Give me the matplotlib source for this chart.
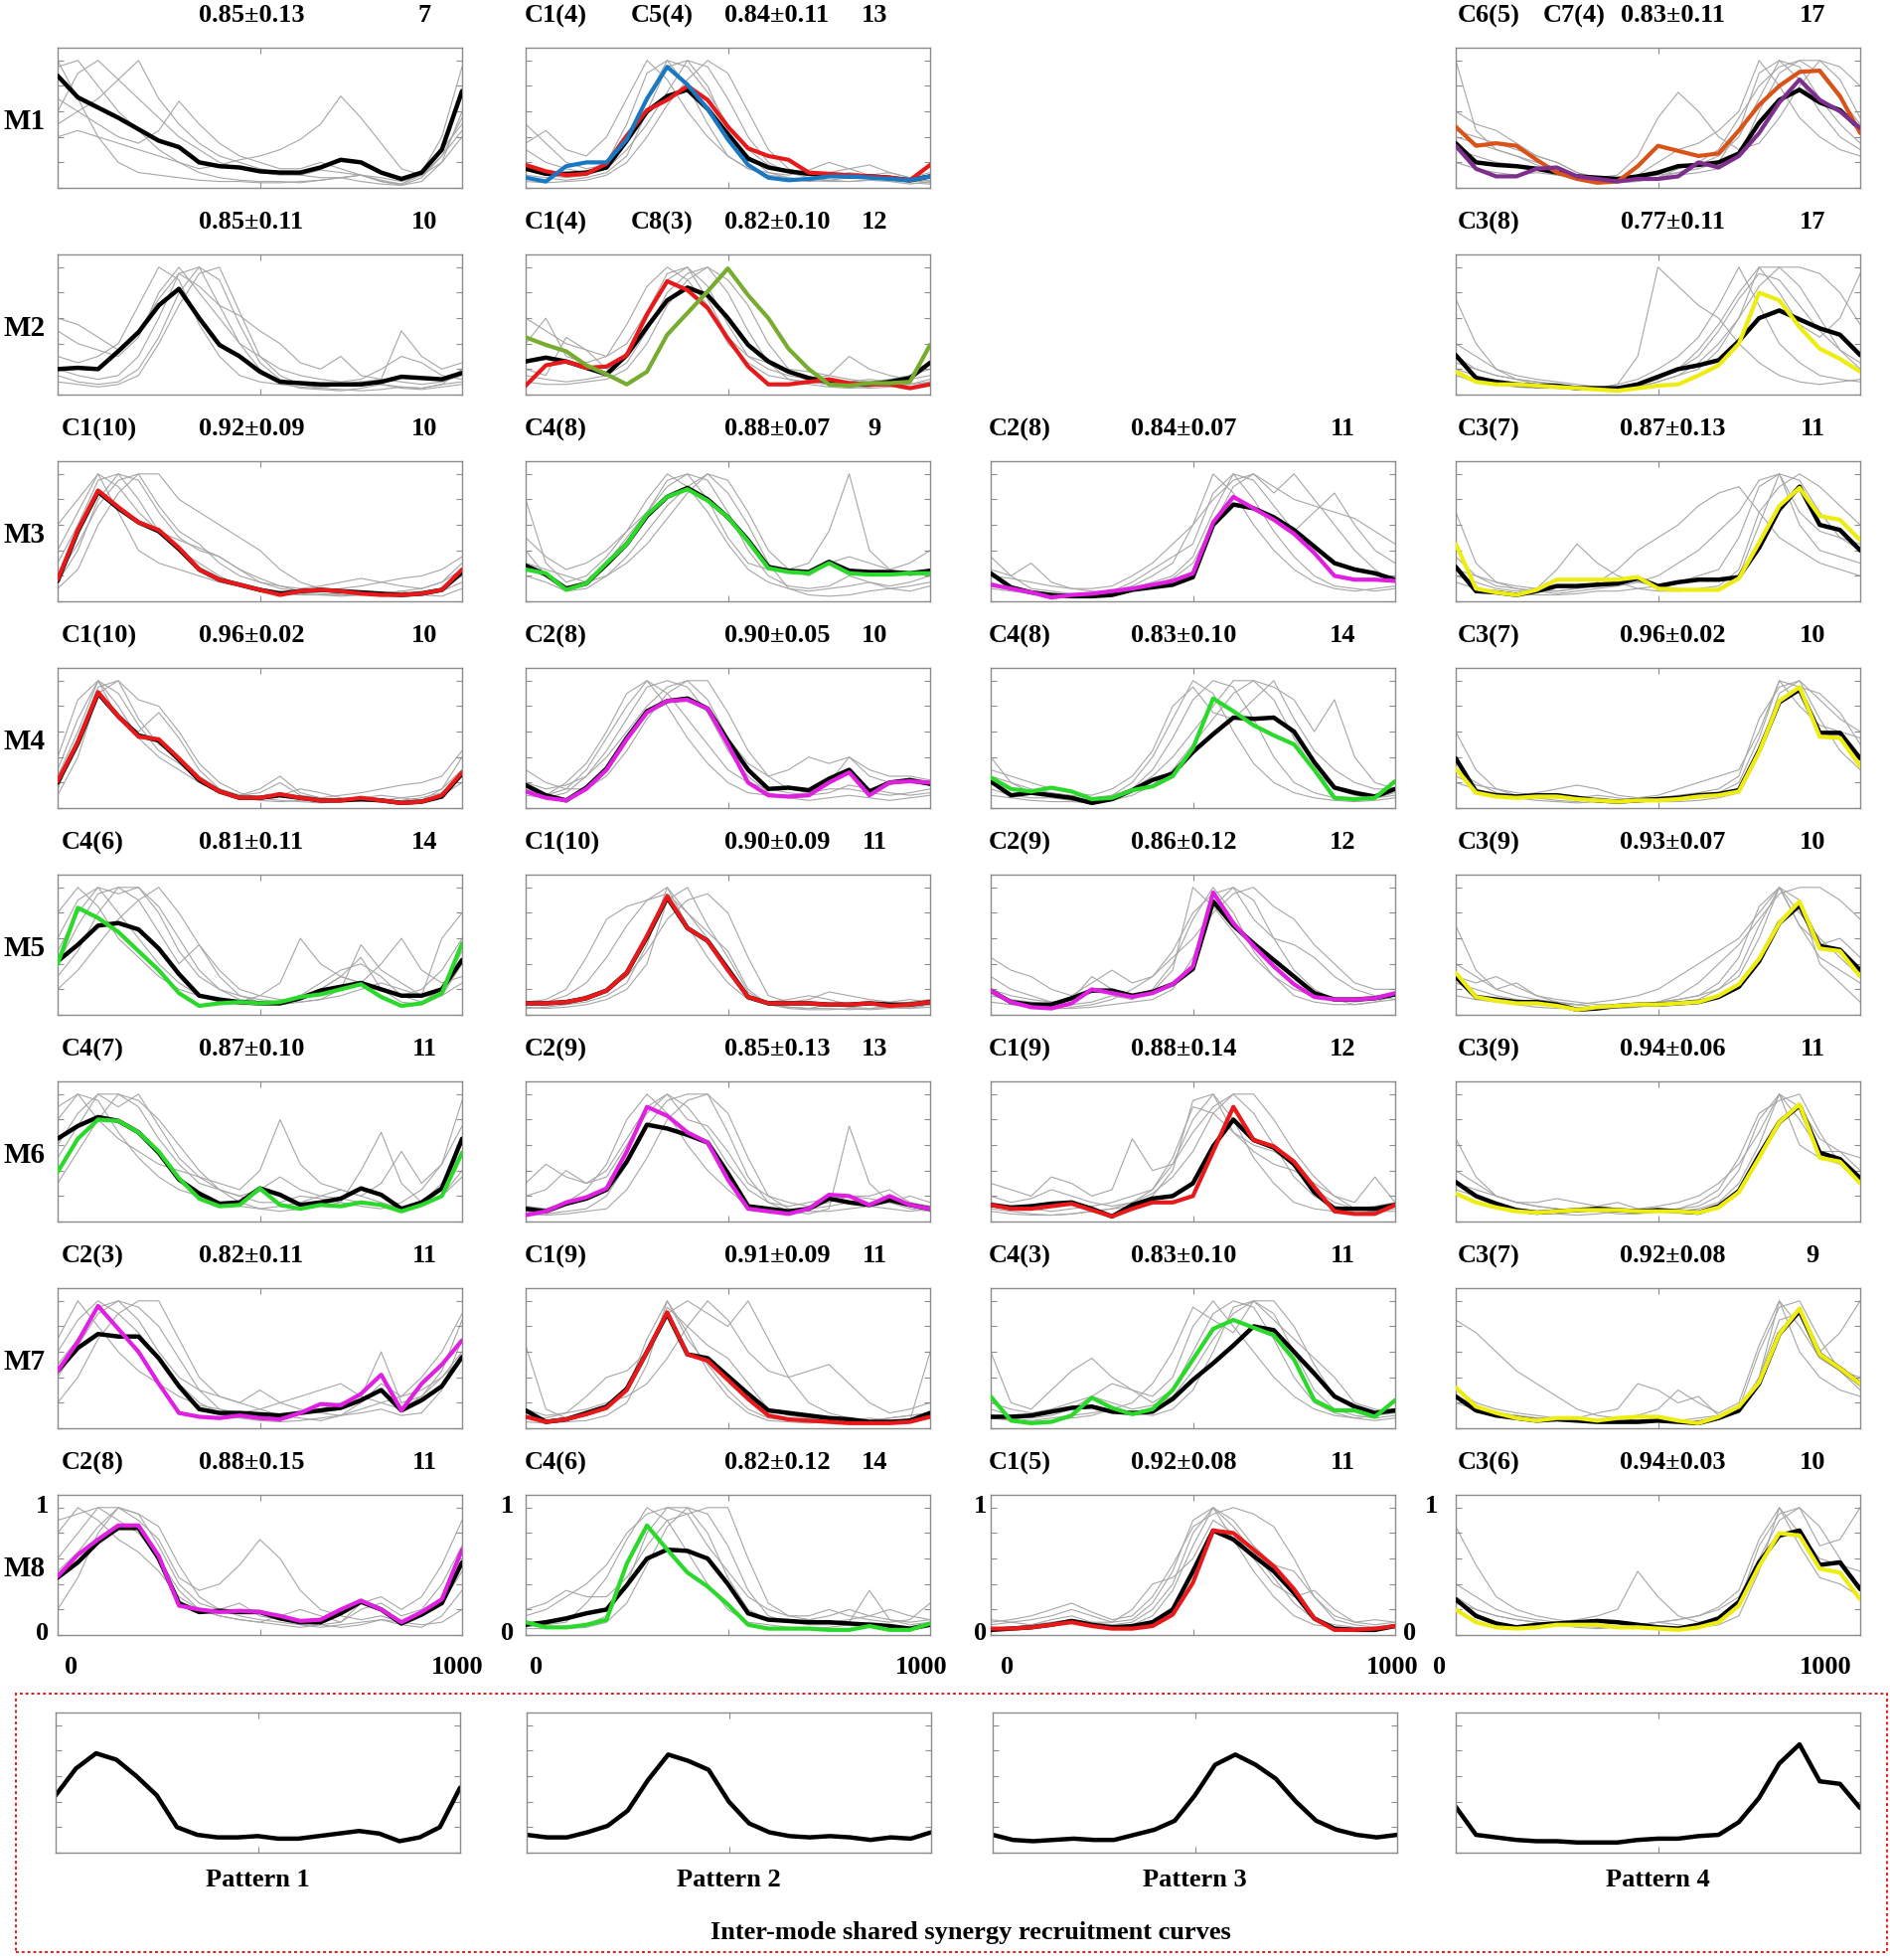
import numpy as np
import matplotlib.pyplot as plt
from matplotlib.patches import Rectangle

# sample positions of every curve (0..1000, step 50); values in % of max
x = np.arange(0, 1001, 50)

# ---------------- M1 ----------------
m11_mean = [88,71,63,55,46,37,32,20,17,16,13,12,12,16,22,20,12,7,12,30,76]
m11_gray = [[95,100,80,60,45,30,20,12,8,6,5,5,4,6,8,5,3,2,5,20,60],
            [60,90,100,85,70,55,40,30,20,15,12,10,10,14,12,10,6,3,10,30,50],
            [50,60,70,85,100,70,50,35,25,20,15,12,10,8,8,10,5,2,8,25,45],
            [40,45,40,35,30,25,20,15,18,22,25,30,38,50,72,55,35,15,10,20,40],
            [70,60,50,40,35,45,68,50,35,25,20,15,15,20,15,10,5,3,12,40,95],
            [100,70,40,20,12,10,8,6,5,5,4,4,5,6,8,10,8,5,10,25,55]]
m12_mean = [15,11,11,12,16,37,60,72,77,62,42,23,16,13,11,10,9,9,8,6,9]
m12_c1 = [18,13,10,11,19,41,61,69,80,69,48,31,25,22,12,11,10,9,8,6,18]
m12_c5 = [8,5,17,20,20,38,70,95,81,62,38,18,8,6,7,9,9,8,7,6,9]
m12_gray = [[30,20,15,12,20,50,90,100,80,50,25,15,10,8,6,5,5,6,5,3,5],
            [10,8,6,8,12,25,60,95,100,80,45,25,12,8,5,6,8,10,6,4,3],
            [50,35,20,15,18,35,70,100,95,75,50,30,18,12,10,12,15,18,12,8,10],
            [15,10,8,10,15,30,50,75,100,95,70,40,20,12,8,6,5,6,8,5,6],
            [5,4,5,6,10,20,40,65,85,100,90,60,30,15,10,8,12,10,8,6,4],
            [35,45,30,25,40,70,100,85,60,40,25,15,12,10,14,20,15,10,12,8,12]]
m14_mean = [35,20,18,17,15,12,9,8,7,9,12,17,18,20,27,51,69,77,67,61,46]
m14_c6 = [48,33,35,33,22,12,7,4,5,17,33,29,25,27,45,65,80,91,92,72,43]
m14_c7 = [33,15,9,9,15,16,9,7,5,7,7,9,20,16,25,43,67,85,69,60,47]
m14_gray = [[100,45,30,25,20,15,10,8,6,8,10,12,15,20,45,90,100,85,60,40,30],
            [60,50,45,35,25,20,12,8,5,6,8,15,20,30,55,80,95,100,90,70,50],
            [30,25,20,18,15,12,10,8,10,25,55,75,60,40,30,35,55,80,100,95,80],
            [45,40,35,30,25,20,12,6,4,5,8,12,18,25,40,70,100,95,70,50,35],
            [20,15,12,10,12,10,8,6,5,6,8,10,12,15,25,60,90,100,100,85,55],
            [40,35,30,25,18,12,8,6,5,10,20,30,35,45,60,100,80,55,40,30,25]]

# ---------------- M2 ----------------
m21_mean = [20,21,20,34,49,70,83,60,39,30,18,10,9,8,8,8,10,14,13,12,17]
m21_gray = [[30,25,30,40,70,100,90,55,30,15,10,8,6,5,8,10,8,6,5,8,10],
            [50,40,35,30,45,80,100,80,60,40,30,20,15,12,10,12,20,30,25,15,12],
            [20,15,12,15,30,60,95,100,70,40,20,10,5,4,3,5,8,5,4,6,8],
            [15,10,8,10,20,45,80,100,90,55,25,12,8,6,8,10,12,10,8,10,15],
            [60,55,45,35,50,75,95,85,70,62,50,40,25,20,30,15,12,50,30,20,25],
            [10,8,6,8,15,40,70,95,100,65,30,15,8,5,4,3,4,6,5,8,20]]
m22_mean = [26,29,26,21,16,31,53,74,84,78,60,39,26,18,13,10,8,8,10,13,25]
m22_c1 = [7,23,26,21,22,31,63,89,82,68,44,22,8,8,10,12,9,8,8,5,8]
m22_c8 = [45,39,34,23,16,8,18,47,64,81,99,78,60,36,20,8,7,9,9,10,39]
m22_gray = [[40,60,30,25,30,55,85,100,90,70,40,25,15,12,10,8,10,12,10,8,10],
            [20,15,45,35,20,30,60,90,100,85,55,30,20,15,12,15,30,20,15,12,15],
            [15,12,10,12,15,25,50,80,95,100,80,50,25,12,8,6,5,6,8,6,10],
            [60,50,40,35,30,40,65,95,100,75,45,30,25,20,18,15,12,10,12,15,20],
            [10,8,8,10,12,20,40,70,90,100,90,70,40,20,10,8,6,5,6,8,12]]
m24_mean = [31,13,10,8,7,7,5,5,5,8,14,20,23,27,42,60,66,59,52,47,31]
m24_c3 = [18,10,8,8,7,6,5,4,3,5,7,8,15,23,40,80,74,53,36,28,18]
m24_gray = [[75,40,20,12,8,6,5,5,8,30,100,85,70,60,40,25,15,10,8,10,12],
            [30,20,15,12,10,8,6,5,8,12,20,30,45,70,100,70,40,25,15,12,10],
            [20,15,10,8,6,5,4,4,5,8,12,20,35,55,80,100,100,85,60,35,20],
            [40,30,20,15,12,10,8,6,5,6,10,15,25,40,60,85,100,100,95,80,55],
            [25,20,15,12,10,8,6,5,6,8,12,20,30,50,75,95,90,70,50,35,25],
            [15,10,8,6,5,5,4,4,5,6,10,15,20,35,60,100,80,55,45,60,95]]

# ---------------- M3 ----------------
m31_mean = [16,55,86,73,62,55,41,25,17,13,9,6,8,9,8,7,6,5,6,9,23]
m31_c1 = [17,56,87,74,62,56,42,25,17,13,9,5,8,9,8,6,5,5,6,9,25]
m31_gray = [[30,60,95,100,80,55,40,30,20,12,8,6,5,5,6,8,6,5,6,8,15],
            [15,40,80,100,95,70,50,40,35,25,15,10,8,6,5,5,6,8,10,15,25],
            [40,70,100,90,70,55,48,42,35,25,18,12,8,8,10,12,15,18,20,25,35],
            [20,45,75,95,100,100,80,70,60,50,40,25,15,10,8,6,5,6,8,10,20],
            [60,80,100,70,40,30,25,20,15,12,10,8,6,5,4,5,6,8,5,4,10],
            [10,25,60,85,100,75,55,45,30,20,15,12,10,12,15,18,15,12,10,15,30]]
m32_mean = [28,21,10,14,29,45,67,82,89,80,66,48,27,24,23,31,24,23,23,22,24]
m32_c4 = [25,22,9,14,30,45,68,82,88,79,66,47,26,23,22,30,22,21,21,22,22]
m32_gray = [[80,30,15,20,35,55,80,100,90,70,45,25,15,10,8,10,12,15,10,8,12],
            [40,20,10,15,30,50,70,90,100,95,70,40,20,12,10,12,20,15,12,15,20],
            [20,15,8,10,20,35,55,75,90,100,85,60,30,10,5,4,5,8,10,12,15],
            [50,35,25,30,40,55,70,95,100,80,50,30,25,25,30,55,100,40,25,20,25],
            [30,25,20,15,20,30,45,65,85,100,95,70,40,25,20,30,35,30,25,30,40]]
m33_mean = [22,11,7,5,4,4,5,9,11,13,19,60,76,73,66,56,43,30,25,22,17]
m33_c2 = [13,10,7,3,5,6,8,10,13,16,22,62,82,73,64,53,38,20,17,17,16]
m33_gray = [[35,20,10,8,6,5,8,12,20,30,60,100,85,60,40,25,15,10,8,10,12],
            [15,10,8,6,5,6,8,15,25,35,45,85,100,80,55,35,20,12,10,8,10],
            [20,18,15,12,10,10,12,20,30,45,60,80,95,100,90,80,75,70,65,55,45],
            [10,8,6,5,4,5,6,8,12,18,30,60,90,100,85,100,80,60,40,25,15],
            [25,20,30,15,10,8,6,10,15,20,35,70,100,95,75,55,70,85,60,40,30]]
m34_mean = [27,8,7,5,8,12,12,13,14,18,12,15,17,17,19,42,72,90,60,56,40]
m34_c3 = [45,10,7,5,9,17,17,17,17,19,10,9,9,9,18,46,75,89,67,64,48]
m34_gray = [[70,30,15,10,8,6,8,10,12,15,20,30,40,55,70,95,100,60,40,35,30],
            [20,15,10,8,10,25,45,30,20,15,12,15,20,25,50,90,100,70,55,50,45],
            [35,20,12,10,8,8,10,15,25,40,50,60,75,85,90,70,50,40,30,25,20],
            [15,10,8,6,5,5,6,8,8,10,12,10,8,10,20,60,100,95,70,50,40],
            [25,20,15,12,10,8,10,12,15,10,8,8,10,12,25,70,90,100,90,75,60]]

# ---------------- M4 ----------------
m41_mean = [20,51,90,72,57,53,38,22,13,8,8,10,8,6,6,7,6,4,5,9,27]
m41_c1 = [21,52,91,72,56,54,39,23,13,8,8,11,8,6,6,8,6,4,5,10,28]
m41_gray = [[30,70,100,80,55,40,30,20,12,8,6,5,6,8,6,5,6,8,10,15,30],
            [15,55,95,100,70,50,40,25,15,10,8,10,15,12,8,6,5,6,8,12,25],
            [40,85,100,70,60,75,55,30,15,10,12,20,10,8,6,8,10,8,6,10,20],
            [10,40,90,100,85,80,60,35,20,12,8,6,5,4,5,6,5,4,6,15,40],
            [25,60,100,90,65,45,35,22,14,10,15,25,12,8,10,12,15,18,20,25,45]]
m42_mean = [18,10,6,16,31,55,76,84,86,78,53,30,15,16,14,23,30,13,20,22,19]
m42_c2 = [13,8,6,15,30,54,75,84,85,78,50,20,10,9,10,20,28,10,20,21,20]
m42_gray = [[15,10,20,35,60,90,100,80,55,35,20,12,10,10,12,15,15,12,10,12,15],
            [10,8,12,25,45,70,95,100,95,75,45,25,12,8,6,8,10,8,6,8,10],
            [20,15,18,25,40,60,80,95,100,85,55,35,25,30,40,35,40,30,25,25,22],
            [30,20,15,15,25,45,70,90,100,100,75,45,25,15,12,20,40,25,20,20,18],
            [12,10,15,30,55,80,100,90,70,50,30,20,15,12,10,12,18,15,12,10,12]]
m43_mean = [21,10,12,10,8,4,7,14,22,27,44,58,71,70,71,60,36,16,12,9,15]
m43_c4 = [24,15,13,16,13,7,8,14,17,25,47,86,76,65,57,50,30,8,7,8,21]
m43_gray = [[40,20,12,10,8,6,10,20,40,70,100,90,60,35,20,12,8,6,5,6,8],
            [15,10,8,8,6,5,8,15,30,55,85,100,95,70,40,20,12,8,6,8,10],
            [25,20,15,12,10,8,10,15,25,40,60,80,100,100,85,55,30,15,10,8,12],
            [10,8,6,5,5,4,6,10,18,30,50,70,90,100,95,85,60,85,40,20,15],
            [30,25,20,15,12,10,15,25,45,80,95,75,70,85,100,70,45,30,20,15,15]]
m44_mean = [39,13,10,9,10,10,8,6,5,6,7,8,10,11,14,45,83,93,59,59,39]
m44_c3 = [31,12,9,8,9,9,7,6,5,6,6,7,9,10,13,44,84,95,56,55,33]
m44_gray = [[60,30,15,10,8,6,5,8,6,5,6,8,10,12,20,55,100,80,65,60,55],
            [30,20,12,10,12,15,18,15,10,8,8,10,12,15,25,70,95,100,85,70,60],
            [20,15,10,8,6,5,4,5,6,8,10,15,20,25,30,60,100,95,90,75,50],
            [25,18,15,12,10,8,8,10,8,6,5,5,6,8,12,45,90,100,70,45,30]]

# ---------------- M5 ----------------
m51_mean = [42,55,70,72,67,52,32,15,12,10,9,9,13,19,22,25,20,15,15,20,43]
m51_c4 = [40,84,76,65,50,35,17,7,9,10,9,10,14,16,20,24,14,7,9,17,56]
m51_gray = [[60,90,100,80,60,40,25,15,10,8,8,10,15,25,35,40,30,15,10,20,50],
            [40,70,95,100,100,80,50,30,20,15,12,10,12,20,30,25,20,15,20,35,60],
            [80,100,85,60,45,30,20,15,12,10,15,25,60,40,30,25,40,60,35,25,30],
            [30,50,80,100,90,65,40,55,35,20,15,12,10,12,15,20,25,20,15,60,80],
            [50,80,100,95,100,85,60,35,20,12,10,8,10,12,20,55,35,25,15,15,40],
            [20,35,55,75,90,100,80,55,30,15,10,10,15,20,30,45,20,10,8,15,25]]
m52_mean = [9,9,10,13,19,33,61,92,68,58,36,14,9,9,9,8,8,9,8,8,10]
m52_c1 = [9,9,10,13,19,33,62,93,68,58,35,14,9,9,9,8,8,9,7,8,10]
m52_gray = [[8,10,15,25,45,70,90,100,70,45,25,12,8,6,5,8,6,5,6,5,8],
            [10,12,20,45,75,85,90,95,80,60,35,15,10,12,15,12,8,10,8,10,12],
            [5,6,8,10,15,25,55,100,80,65,50,20,8,6,5,5,4,5,6,5,6],
            [10,8,10,15,20,30,50,75,90,95,80,45,15,10,12,18,15,12,10,12,10],
            [6,5,6,8,12,20,40,90,100,70,45,18,8,5,4,4,5,4,5,6,8]]
m53_mean = [19,10,8,8,13,19,19,15,18,24,36,89,70,56,43,30,17,12,12,13,16]
m53_c2 = [19,10,6,5,9,20,17,14,17,24,38,96,72,54,38,24,14,12,12,13,17]
m53_gray = [[30,20,15,10,8,10,15,12,20,40,75,100,80,50,30,15,10,8,8,10,12],
            [45,35,30,20,15,25,35,25,30,50,80,95,100,90,60,35,20,12,8,10,15],
            [15,12,10,8,6,8,12,20,30,45,60,80,95,100,85,75,55,40,25,20,20],
            [20,15,12,10,12,30,20,15,18,35,100,85,65,45,30,20,15,12,10,12,15],
            [10,8,6,5,5,6,8,10,12,20,45,85,100,75,60,55,45,30,20,15,12]]
m54_mean = [30,14,12,10,10,8,4,5,7,8,8,9,10,14,22,42,72,86,54,51,35]
m54_c3 = [33,14,11,9,9,7,4,6,7,8,8,9,10,15,24,44,72,89,52,50,30]
m54_gray = [[70,35,20,15,12,10,8,6,5,6,8,10,12,20,35,70,100,70,45,35,25],
            [30,25,30,22,15,12,10,8,8,8,10,12,15,25,45,85,100,80,60,45,30],
            [40,30,20,25,15,10,8,6,6,8,10,15,25,40,55,75,95,100,100,90,75],
            [15,12,10,8,6,5,5,5,6,8,10,12,15,20,30,60,100,90,40,25,10],
            [25,20,15,12,10,8,8,10,12,15,20,30,40,50,60,80,100,70,55,60,45]]

# ---------------- M6 ----------------
m61_mean = [65,75,82,79,70,54,33,22,14,15,26,21,13,15,18,26,21,10,15,26,65]
m61_c4 = [39,65,80,79,70,55,34,18,12,13,26,13,10,13,12,15,13,8,13,20,54]
m61_gray = [[80,100,95,70,50,35,25,20,15,12,10,12,15,20,25,20,15,10,15,30,55],
            [50,75,100,100,90,65,45,30,25,20,15,15,20,18,15,12,10,15,25,45,75],
            [90,100,80,65,55,45,40,35,30,25,40,80,45,30,25,20,30,55,30,45,95],
            [30,55,80,100,95,80,60,40,25,15,10,8,10,12,15,40,70,30,15,20,40],
            [60,85,100,90,100,75,50,35,25,20,25,35,25,20,18,15,12,10,12,20,35]]
m62_mean = [10,8,14,18,25,47,76,73,68,62,38,12,10,8,10,18,15,13,17,13,10]
m62_c2 = [5,8,15,19,26,55,90,83,70,62,33,10,8,6,10,21,20,13,20,13,10]
m62_gray = [[12,10,15,25,45,80,100,85,60,40,25,12,10,8,10,12,15,12,10,8,10],
            [30,45,35,30,40,65,90,100,90,70,45,25,15,12,15,18,20,18,15,12,12],
            [8,6,8,10,20,45,75,95,100,100,70,35,15,8,6,10,75,30,15,10,8],
            [20,25,40,30,35,60,85,100,80,75,55,30,20,15,12,15,20,20,25,15,12],
            [6,5,6,8,10,25,50,80,95,100,85,50,20,10,8,8,10,12,15,20,15]]
m63_mean = [13,11,12,14,15,10,4,13,18,20,30,59,80,64,58,45,23,10,10,10,13]
m63_c1 = [13,10,10,12,14,9,4,10,15,15,20,55,90,64,59,47,27,8,6,6,13]
m63_gray = [[15,12,10,8,10,12,15,20,25,45,80,100,80,50,30,15,10,8,6,8,10],
            [30,25,20,35,30,20,25,65,40,45,70,90,100,85,60,35,20,12,10,12,15],
            [10,8,6,5,6,8,10,12,20,40,95,100,70,55,45,40,30,20,10,8,8],
            [20,15,18,25,20,15,12,15,22,35,55,85,100,100,80,55,35,20,15,35,15],
            [8,6,5,5,6,8,10,15,25,50,90,85,70,60,55,45,25,15,10,10,12]]
m64_mean = [31,20,14,9,7,8,9,10,9,8,9,8,7,12,24,52,78,91,54,49,34]
m64_c3 = [22,15,11,8,7,8,9,9,9,8,8,8,7,11,23,50,78,92,50,47,30]
m64_gray = [[65,35,20,15,12,10,8,12,15,10,8,8,10,15,30,60,100,60,50,45,35],
            [40,30,20,15,15,18,15,12,10,8,8,10,12,20,40,80,100,90,65,55,40],
            [30,25,20,15,12,10,8,8,6,6,8,10,15,25,50,85,95,100,70,45,30],
            [25,20,15,10,8,6,5,6,8,10,12,15,20,30,45,70,100,80,55,55,50]]

# ---------------- M7 ----------------
m71_mean = [45,63,74,72,72,55,33,15,12,12,11,10,12,14,16,22,30,14,22,33,56]
m71_c2 = [45,68,96,78,60,35,12,9,8,10,8,7,12,19,18,27,42,14,35,50,69]
m71_gray = [[60,85,100,90,75,55,35,20,12,8,6,5,6,8,10,15,20,25,30,40,60],
            [40,65,90,100,95,80,55,30,15,10,8,10,12,15,20,25,60,20,25,45,85],
            [70,100,80,60,45,35,25,18,15,12,15,20,25,30,35,25,20,15,25,40,55],
            [20,40,70,90,100,100,70,40,25,20,30,20,15,12,10,12,15,10,12,30,70],
            [50,70,95,100,85,60,40,30,25,20,15,10,8,6,10,20,35,25,40,60,90]]
m72_mean = [14,5,7,12,17,31,60,90,58,55,41,27,14,12,10,8,7,5,5,6,12]
m72_c1 = [9,5,7,11,16,30,60,91,58,53,38,23,10,7,6,5,4,4,4,5,9]
m72_gray = [[65,15,8,10,15,30,70,100,70,50,30,15,8,6,5,5,6,8,6,5,8],
            [10,8,12,25,40,45,60,95,80,65,55,35,15,10,8,6,5,6,8,10,12],
            [8,6,8,10,15,30,60,90,100,90,80,100,70,40,20,12,8,6,8,10,12],
            [15,10,12,15,20,25,35,55,80,100,85,60,45,40,45,50,35,20,12,15,20],
            [5,4,5,6,10,20,50,100,75,45,25,12,6,5,4,5,6,5,4,6,60]]
m73_mean = [9,9,10,13,16,17,13,12,13,23,38,51,65,80,77,60,43,25,17,12,14]
m73_c4 = [25,6,4,5,10,24,16,11,15,30,54,78,85,79,73,54,22,14,14,9,22]
m73_gray = [[60,20,15,30,45,55,40,30,25,40,80,100,80,60,40,25,15,10,8,10,12],
            [15,10,8,10,15,25,35,30,20,30,60,90,100,95,70,40,20,12,8,6,8],
            [10,8,6,8,10,12,15,20,35,60,95,85,75,100,90,60,30,15,10,8,10],
            [20,15,12,15,20,25,20,15,18,25,45,70,90,100,100,80,50,25,15,12,15],
            [8,6,5,6,8,10,15,12,10,15,30,60,95,100,85,70,55,40,20,15,12]]
m74_mean = [25,14,10,8,6,7,6,5,5,5,6,5,4,8,14,35,74,92,58,47,35]
m74_c3 = [32,17,12,8,6,8,8,6,8,9,9,6,4,9,17,36,74,94,58,47,35]
m74_gray = [[85,75,60,45,35,25,15,10,8,6,5,5,6,8,12,40,100,60,40,30,25],
            [30,20,15,12,10,8,8,12,15,35,30,20,25,10,15,60,95,100,70,45,30],
            [20,15,12,10,8,6,5,6,8,10,15,30,20,12,20,65,100,80,55,45,40],
            [25,18,12,10,8,8,6,6,8,10,8,6,8,10,15,40,85,90,60,75,100]]

# ---------------- M8 ----------------
m81_mean = [45,57,73,84,84,60,25,18,19,18,18,13,10,10,17,26,20,9,16,25,57]
m81_c2 = [46,63,75,86,86,62,23,20,18,19,18,15,11,12,20,27,20,10,18,28,67]
m81_gray = [[90,95,100,90,80,60,35,20,15,12,10,8,6,8,10,20,25,15,20,40,70],
            [60,80,100,100,95,70,40,25,20,25,15,12,10,8,6,8,12,10,15,25,50],
            [50,65,85,100,90,75,45,35,40,55,75,60,35,20,15,12,15,10,8,10,20],
            [80,100,90,75,65,50,30,20,15,12,10,15,20,15,10,25,30,20,30,55,90],
            [20,45,80,100,95,85,55,30,20,15,12,10,8,6,8,10,12,8,6,15,35]]
m82_mean = [8,10,13,17,20,39,60,67,66,60,40,17,12,11,10,10,9,8,7,5,8]
m82_c4 = [10,6,6,8,12,56,86,67,49,38,24,8,5,5,5,4,4,7,4,4,9]
m82_gray = [[10,8,10,25,45,75,100,90,65,40,20,10,8,6,5,6,8,10,8,6,8],
            [15,20,30,40,55,80,95,100,100,80,45,20,12,10,12,15,20,15,12,10,12],
            [8,6,5,6,10,25,55,85,100,95,70,35,15,10,8,8,10,35,12,8,10],
            [20,25,35,30,30,45,70,90,95,100,100,60,25,15,15,20,15,12,10,12,25],
            [5,5,6,8,15,40,80,100,95,70,50,30,20,15,12,10,12,15,20,15,12]]
m83_mean = [4,5,6,8,11,8,6,7,10,20,50,82,75,62,50,33,13,5,4,4,7]
m83_c1 = [5,5,6,8,10,7,5,5,7,16,41,82,80,67,54,36,13,4,4,5,7]
m83_gray = [[8,10,12,15,20,15,10,12,25,50,90,100,75,50,30,15,8,6,5,6,8],
            [5,6,8,12,15,10,8,10,20,40,80,100,85,65,45,25,12,8,6,5,6],
            [10,12,15,20,25,18,12,15,30,55,85,95,100,95,85,60,30,15,10,8,10],
            [6,5,6,8,10,8,6,8,15,35,70,100,90,70,55,50,30,12,8,6,8],
            [12,10,8,10,12,10,10,20,40,45,60,90,80,60,40,30,35,20,10,12,10]]
m84_mean = [28,15,9,6,8,9,10,11,10,8,6,5,8,13,26,57,78,82,55,57,36]
m84_c3 = [20,10,6,5,6,8,8,8,6,6,5,4,6,10,23,54,80,78,52,49,28]
m84_gray = [[85,55,30,20,15,12,10,8,6,8,10,8,6,8,15,50,100,80,60,55,50],
            [40,30,20,15,12,10,12,15,20,50,30,15,10,12,25,70,95,100,85,60,35],
            [25,20,15,12,10,8,8,6,6,8,10,12,15,20,30,60,90,100,70,75,100],
            [30,20,15,12,10,8,6,5,6,8,10,12,15,22,35,75,100,70,45,40,30]]

# ---------------- shared patterns ----------------
pat1 = [45,66,78,73,60,45,20,14,12,12,13,11,11,13,15,17,15,9,12,20,51]
pat2 = [14,12,12,16,21,33,57,77,72,65,40,23,16,13,12,13,12,10,12,11,16]
pat3 = [14,10,9,10,11,10,10,14,18,25,45,69,77,69,58,40,25,18,14,12,14]
pat4 = [36,14,12,10,9,9,8,8,8,10,11,11,13,14,24,43,70,85,56,54,35]
pattern_names = ["Pattern 1", "Pattern 2", "Pattern 3", "Pattern 4"]

cluster_colors = {"C1": "#E8191A", "C2": "#E020E0", "C3": "#EDED12", "C4": "#2BD92B",
                  "C5": "#1A78C2", "C6": "#D95319", "C7": "#7E2F8E", "C8": "#77AC30"}

# row, col, gray curves, mean, synergy curves, labels, similarity, count
panels = [
    (0, 0, m11_gray, m11_mean, [], [], "0.85±0.13", "7"),
    (0, 1, m12_gray, m12_mean, [m12_c1, m12_c5], ["C1(4)", "C5(4)"], "0.84±0.11", "13"),
    (0, 3, m14_gray, m14_mean, [m14_c6, m14_c7], ["C6(5)", "C7(4)"], "0.83±0.11", "17"),
    (1, 0, m21_gray, m21_mean, [], [], "0.85±0.11", "10"),
    (1, 1, m22_gray, m22_mean, [m22_c1, m22_c8], ["C1(4)", "C8(3)"], "0.82±0.10", "12"),
    (1, 3, m24_gray, m24_mean, [m24_c3], ["C3(8)"], "0.77±0.11", "17"),
    (2, 0, m31_gray, m31_mean, [m31_c1], ["C1(10)"], "0.92±0.09", "10"),
    (2, 1, m32_gray, m32_mean, [m32_c4], ["C4(8)"], "0.88±0.07", "9"),
    (2, 2, m33_gray, m33_mean, [m33_c2], ["C2(8)"], "0.84±0.07", "11"),
    (2, 3, m34_gray, m34_mean, [m34_c3], ["C3(7)"], "0.87±0.13", "11"),
    (3, 0, m41_gray, m41_mean, [m41_c1], ["C1(10)"], "0.96±0.02", "10"),
    (3, 1, m42_gray, m42_mean, [m42_c2], ["C2(8)"], "0.90±0.05", "10"),
    (3, 2, m43_gray, m43_mean, [m43_c4], ["C4(8)"], "0.83±0.10", "14"),
    (3, 3, m44_gray, m44_mean, [m44_c3], ["C3(7)"], "0.96±0.02", "10"),
    (4, 0, m51_gray, m51_mean, [m51_c4], ["C4(6)"], "0.81±0.11", "14"),
    (4, 1, m52_gray, m52_mean, [m52_c1], ["C1(10)"], "0.90±0.09", "11"),
    (4, 2, m53_gray, m53_mean, [m53_c2], ["C2(9)"], "0.86±0.12", "12"),
    (4, 3, m54_gray, m54_mean, [m54_c3], ["C3(9)"], "0.93±0.07", "10"),
    (5, 0, m61_gray, m61_mean, [m61_c4], ["C4(7)"], "0.87±0.10", "11"),
    (5, 1, m62_gray, m62_mean, [m62_c2], ["C2(9)"], "0.85±0.13", "13"),
    (5, 2, m63_gray, m63_mean, [m63_c1], ["C1(9)"], "0.88±0.14", "12"),
    (5, 3, m64_gray, m64_mean, [m64_c3], ["C3(9)"], "0.94±0.06", "11"),
    (6, 0, m71_gray, m71_mean, [m71_c2], ["C2(3)"], "0.82±0.11", "11"),
    (6, 1, m72_gray, m72_mean, [m72_c1], ["C1(9)"], "0.91±0.09", "11"),
    (6, 2, m73_gray, m73_mean, [m73_c4], ["C4(3)"], "0.83±0.10", "11"),
    (6, 3, m74_gray, m74_mean, [m74_c3], ["C3(7)"], "0.92±0.08", "9"),
    (7, 0, m81_gray, m81_mean, [m81_c2], ["C2(8)"], "0.88±0.15", "11"),
    (7, 1, m82_gray, m82_mean, [m82_c4], ["C4(6)"], "0.82±0.12", "14"),
    (7, 2, m83_gray, m83_mean, [m83_c1], ["C1(5)"], "0.92±0.08", "11"),
    (7, 3, m84_gray, m84_mean, [m84_c3], ["C3(6)"], "0.94±0.03", "10"),
]

# ---------------- layout (pixels) ----------------
W, H = 1902, 1972
col_left = [58, 529, 997, 1465]
pat_left = [56, 530, 999, 1465]
AX_W, AX_H = 407, 141
row_top = [48 + 208 * i for i in range(8)]
lbl_left = [62, 528, 995, 1467]
lbl2_x = [None, 666, None, 1584]
corr_x = [253, 782, 1191, 1683]
count_x = [427, 880, 1351, 1824]

FONT = dict(family="Liberation Serif", weight="bold")
FS = 19

fig = plt.figure(figsize=(W / 100, H / 100), dpi=100)


def ftext(px, py, s, size=FS, ha="center", va="center", **kw):
    fig.text(px / W, 1 - py / H, s, ha=ha, va=va, fontsize=size, **FONT, **kw)


def make_axes(left, top):
    ax = fig.add_axes([left / W, 1 - (top + AX_H) / H, AX_W / W, AX_H / H])
    ax.set_xlim(0, 1000)
    ax.set_ylim(0, 1.1)
    ax.set_xticks([500])
    ax.set_yticks([0, 0.2, 0.4, 0.6, 0.8, 1.0])
    ax.tick_params(direction="in", length=4, width=0.8, color="#8c8c8c",
                   top=True, right=True, labelbottom=False, labelleft=False)
    for s in ax.spines.values():
        s.set_color("#8c8c8c")
        s.set_linewidth(1.0)
    return ax


def pct(v):
    return np.asarray(v) / 100.0


for row, col, grays, mean, syns, labels, corr, count in panels:
    ax = make_axes(col_left[col], row_top[row])
    for g in grays:
        ax.plot(x, pct(g), color="#a6a6a6", lw=0.8, zorder=1)
    ax.plot(x, pct(mean), color="black", lw=3.2, zorder=3,
            solid_joinstyle="round", solid_capstyle="round")
    for curve, lab in zip(syns, labels):
        ax.plot(x, pct(curve), color=cluster_colors[lab.split("(")[0]], lw=3.0,
                zorder=4, solid_joinstyle="round", solid_capstyle="round")

    ty = row_top[row] - 32
    if labels:
        ftext(lbl_left[col], ty, labels[0], ha="left")
    if len(labels) > 1:
        ftext(lbl2_x[col], ty, labels[1])
    ftext(corr_x[col], ty, corr)
    ftext(count_x[col], ty, count)

# row labels
for i in range(8):
    ftext(25, row_top[i] + 74, "M%d" % (i + 1), size=21)

# axis numbers below the last row
zero_x = [72, 540, 1014, 1449]
thou_x = [460, 927, 1401, 1837]
one_y_x = [43, 511, 987, 1440]
zero_y_x = [43, 511, 987, 1419]
for c in range(4):
    ftext(zero_x[c], 1678, "0")
    ftext(thou_x[c], 1678, "1000")
    ftext(one_y_x[c], 1515, "1")
    ftext(zero_y_x[c], 1643, "0")

# shared patterns panel
for c, pat in enumerate([pat1, pat2, pat3, pat4]):
    ax = make_axes(pat_left[c], 1723)
    ax.plot(x, pct(pat), color="black", lw=3.2, solid_joinstyle="round",
            solid_capstyle="round")
    ftext(pat_left[c] + AX_W / 2, 1891, pattern_names[c])

ftext(977, 1944, "Inter-mode shared synergy recruitment curves")

fig.patches.append(Rectangle((16 / W, 1 - 1964 / H), (1899 - 16) / W, (1964 - 1704) / H,
                             transform=fig.transFigure, fill=False, edgecolor="#e8191a",
                             linestyle=(0, (1.5, 1.5)), linewidth=1.4))

fig.savefig("out.png", dpi=100)
